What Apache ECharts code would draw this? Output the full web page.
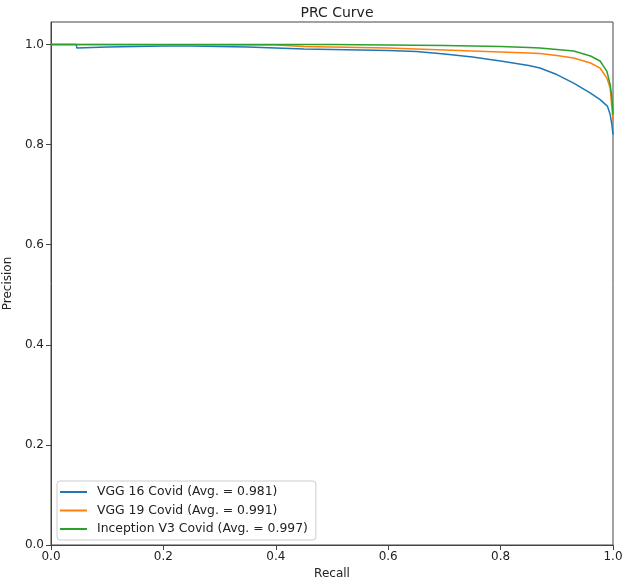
<!DOCTYPE html>
<html>
<head>
<meta charset="utf-8">
<script src="https://cdn.jsdelivr.net/npm/echarts@6/dist/echarts.min.js"></script>
<style>
html,body{margin:0;padding:0;background:#fff;}
#chart{width:625px;height:582px;}
</style>
</head>
<body>
<div id="chart"></div>
<script>
const title = 'PRC Curve';
const xTicks = [0, 0.2, 0.4, 0.6, 0.8, 1.0];
const yTicks = [0, 0.2, 0.4, 0.6, 0.8, 1.0];

const vgg16Name = 'VGG 16 Covid (Avg. = 0.981)';
const vgg16Recall = [0, 0.045, 0.046, 0.10, 0.15, 0.20, 0.25, 0.30, 0.35, 0.40, 0.45, 0.50, 0.55, 0.60, 0.65, 0.70, 0.75, 0.80, 0.85, 0.87, 0.90, 0.93, 0.96, 0.977, 0.99, 0.995, 0.998, 1.0];
const vgg16Precision = [1.0, 1.0, 0.993, 0.995, 0.996, 0.997, 0.997, 0.996, 0.995, 0.993, 0.991, 0.990, 0.989, 0.988, 0.986, 0.981, 0.975, 0.967, 0.958, 0.953, 0.940, 0.923, 0.903, 0.890, 0.877, 0.860, 0.840, 0.820];

const vgg19Name = 'VGG 19 Covid (Avg. = 0.991)';
const vgg19Recall = [0, 0.40, 0.45, 0.50, 0.55, 0.60, 0.65, 0.70, 0.75, 0.80, 0.85, 0.87, 0.90, 0.93, 0.96, 0.977, 0.989, 0.995, 0.998, 1.0];
const vgg19Precision = [1.0, 0.999, 0.996, 0.995, 0.994, 0.993, 0.991, 0.989, 0.987, 0.985, 0.983, 0.982, 0.978, 0.973, 0.963, 0.953, 0.933, 0.913, 0.874, 0.850];

const incName = 'Inception V3 Covid (Avg. = 0.997)';
const incRecall = [0, 0.5, 0.6, 0.7, 0.75, 0.8, 0.85, 0.87, 0.90, 0.93, 0.96, 0.977, 0.989, 0.995, 0.998, 1.0];
const incPrecision = [1.0, 1.0, 0.999, 0.998, 0.997, 0.996, 0.994, 0.993, 0.990, 0.987, 0.977, 0.967, 0.947, 0.920, 0.894, 0.860];

function pairs(xs, ys) { return xs.map((x, i) => [x, ys[i]]); }

const axisColor = '#444';
const font = 'DejaVu Sans';

const chart = echarts.init(document.getElementById('chart'), null, {renderer: 'canvas'});
chart.setOption({
  animation: false,
  backgroundColor: '#fff',
  title: {
    text: title, left: 332, textAlign: 'center', top: 1,
    textStyle: {fontFamily: font, fontSize: 14, fontWeight: 'normal', color: '#222'}
  },
  grid: {left: 51, right: 12, top: 22, bottom: 37, show: true, borderColor: axisColor, borderWidth: 1, outerBoundsMode: 'none', containLabel: false},
  legend: {
    orient: 'vertical', left: 57, top: 481,
    backgroundColor: 'rgba(255,255,255,0.8)', borderColor: '#ccc', borderWidth: 1, borderRadius: 3,
    padding: [4, 8, 4, 3], itemGap: 4.5, itemWidth: 27, itemHeight: 2, icon: 'rect',
    textStyle: {fontFamily: font, fontSize: 12.4, color: '#222', padding: [0, 0, 0, 5], lineHeight: 14},
    data: [vgg16Name, vgg19Name, incName]
  },
  xAxis: {
    type: 'value', min: 0, max: 1, interval: 0.2,
    name: 'Recall', nameLocation: 'middle', nameGap: 22,
    nameTextStyle: {fontFamily: font, fontSize: 12, color: '#222'},
    axisLine: {show: true, lineStyle: {color: axisColor}},
    axisTick: {show: true, length: 5, lineStyle: {color: axisColor}, customValues: xTicks},
    axisLabel: {fontFamily: font, fontSize: 12, color: '#222', margin: 6, customValues: xTicks, formatter: v => v.toFixed(1)},
    splitLine: {show: false}
  },
  yAxis: {
    type: 'value', min: 0, max: 1.045, interval: 0.2,
    name: 'Precision', nameLocation: 'middle', nameGap: 36,
    nameTextStyle: {fontFamily: font, fontSize: 12, color: '#222'},
    axisLine: {show: true, lineStyle: {color: axisColor}},
    axisTick: {show: true, length: 5, lineStyle: {color: axisColor}, customValues: yTicks},
    axisLabel: {fontFamily: font, fontSize: 12, color: '#222', margin: 7, customValues: yTicks, formatter: v => v > 1.001 ? '' : v.toFixed(1)},
    splitLine: {show: false}
  },
  series: [
    {name: vgg16Name, type: 'line', data: pairs(vgg16Recall, vgg16Precision), showSymbol: false, symbol: 'none', lineStyle: {color: '#1f77b4', width: 1.5}, itemStyle: {color: '#1f77b4'}},
    {name: vgg19Name, type: 'line', data: pairs(vgg19Recall, vgg19Precision), showSymbol: false, symbol: 'none', lineStyle: {color: '#ff7f0e', width: 1.5}, itemStyle: {color: '#ff7f0e'}},
    {name: incName, type: 'line', data: pairs(incRecall, incPrecision), showSymbol: false, symbol: 'none', lineStyle: {color: '#2ca02c', width: 1.5}, itemStyle: {color: '#2ca02c'}}
  ]
});
</script>
</body>
</html>
